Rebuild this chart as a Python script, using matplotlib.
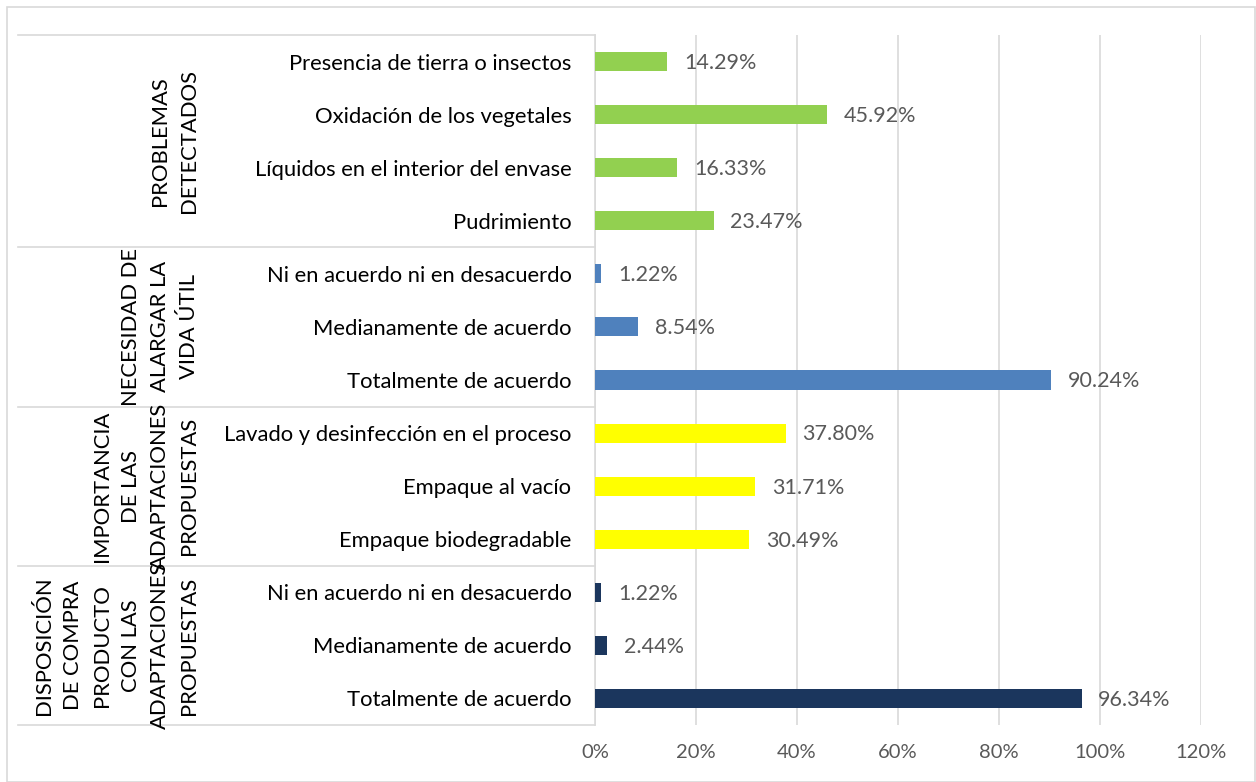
import matplotlib.pyplot as plt
from matplotlib.patches import Rectangle

# categories, top to bottom
labels = [
    "Presencia de tierra o insectos",
    "Oxidación de los vegetales",
    "Líquidos en el interior del envase",
    "Pudrimiento",
    "Ni en acuerdo ni en desacuerdo",
    "Medianamente de acuerdo",
    "Totalmente de acuerdo",
    "Lavado y desinfección en el proceso",
    "Empaque al vacío",
    "Empaque biodegradable",
    "Ni en acuerdo ni en desacuerdo",
    "Medianamente de acuerdo",
    "Totalmente de acuerdo",
]
values = [14.29, 45.92, 16.33, 23.47, 1.22, 8.54, 90.24, 37.80, 31.71, 30.49, 1.22, 2.44, 96.34]
groups = [
    "PROBLEMAS\nDETECTADOS",
    "NECESIDAD DE\nALARGAR LA\nVIDA ÚTIL",
    "IMPORTANCIA\nDE LAS\nADAPTACIONES\nPROPUESTAS",
    "DISPOSICIÓN\nDE COMPRA\nPRODUCTO\nCON LAS\nADAPTACIONES\nPROPUESTAS",
]
group_sizes = [4, 3, 3, 3]
group_colors = ["#92D050", "#4F81BD", "#FFFF00", "#1B365D"]
xticks = [0, 20, 40, 60, 80, 100, 120]

plt.rcParams["font.family"] = ["Lato", "DejaVu Sans"]

W, H = 1256, 782
fig = plt.figure(figsize=(W / 100, H / 100), dpi=100)
fig.patches.append(Rectangle((7 / W, 0), (W - 8) / W, (H - 7) / H, transform=fig.transFigure,
                             fill=False, edgecolor="#D9D9D9", linewidth=1.2))

ax = fig.add_axes([595 / W, (H - 725) / H, (1201 - 595) / W, (725 - 35) / H])

colors = []
for c, n in zip(group_colors, group_sizes):
    colors += [c] * n

ypos = list(range(len(labels)))
bars = ax.barh(ypos, values, height=0.36, color=colors, zorder=3)
ax.set_ylim(len(labels) - 0.5, -0.5)
ax.set_xlim(0, 120)

ax.set_xticks(xticks)
ax.set_xticklabels([f"{t}%" for t in xticks], color="#595959", fontsize=14.5)
ax.set_yticks(ypos)
ax.set_yticklabels(labels, fontsize=15.8, color="black")
ax.tick_params(axis="y", length=0, pad=17)
ax.tick_params(axis="x", length=0, pad=14)
ax.grid(axis="x", color="#D9D9D9", linewidth=1.2, zorder=0)
for s in ["top", "right", "bottom"]:
    ax.spines[s].set_visible(False)
ax.spines["left"].set_color("#D9D9D9")
ax.spines["left"].set_linewidth(1.2)

for b, v in zip(bars, values):
    ax.annotate(f"{v:.2f}%", (b.get_width(), b.get_y() + b.get_height() / 2),
                xytext=(12, -1), textcoords="offset points", va="center", ha="left",
                color="#595959", fontsize=15.5)

# group separators and labels
tr = ax.get_yaxis_transform()
x_left = (18 - 595) / (1201 - 595)
x_lab = (199 - 595) / (1201 - 595)
start = -0.5
for g, n in zip(groups, group_sizes):
    ax.plot([x_left, 0], [start, start], transform=tr, color="#D9D9D9", lw=1.2, clip_on=False)
    ax.text(x_lab, start + n / 2, g, transform=tr, rotation=90, ha="right", va="center",
            multialignment="center", fontsize=15.8, linespacing=1.56)
    start += n
ax.plot([x_left, 0], [start, start], transform=tr, color="#D9D9D9", lw=1.2, clip_on=False)

fig.savefig("out.png", dpi=100)
